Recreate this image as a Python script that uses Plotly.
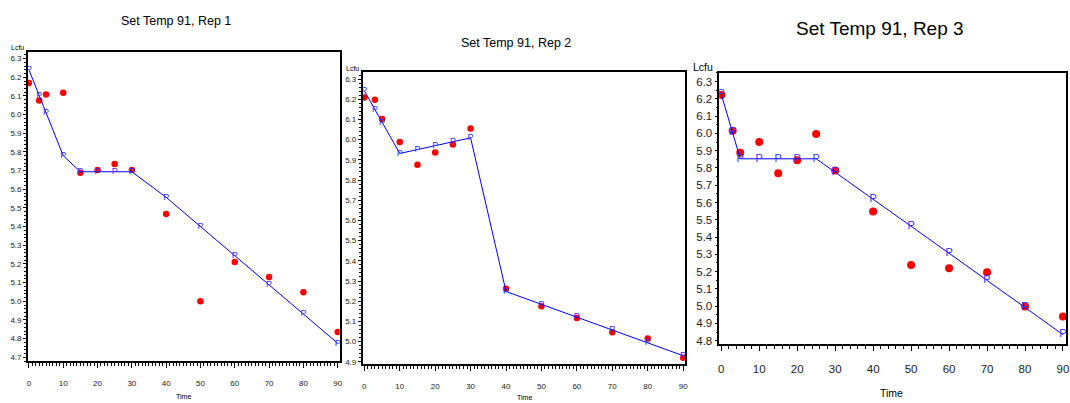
import plotly.graph_objects as go

W, H = 1070, 403

# Sampling times (minutes)
time = [0, 3, 5, 10, 15, 20, 25, 30, 40, 50, 60, 70, 80, 90]

# Observed log cfu per replicate
obs_rep1 = [6.17, 6.076, 6.108, 6.117, 5.688, 5.704, 5.736, 5.704, 5.468, 5.00, 5.21, 5.13, 5.048, 4.835]
obs_rep2 = [6.209, 6.198, 6.103, 5.988, 5.876, 5.937, 5.976, 6.055, 5.262, 5.175, 5.117, 5.046, 5.015, 4.92]
obs_rep3 = [6.223, 6.016, 5.888, 5.951, 5.77, 5.845, 5.997, 5.786, 5.548, 5.238, 5.219, 5.196, 4.998, 4.94]

# Predicted log cfu per replicate
pred_rep1 = [6.241, 6.10, 6.01, 5.78, 5.694, 5.694, 5.694, 5.694, 5.557, 5.401, 5.244, 5.088, 4.932, 4.775]
pred_rep2 = [6.242, 6.149, 6.083, 5.932, 5.951, 5.970, 5.990, 6.009, 5.248, 5.184, 5.121, 5.057, 4.994, 4.93]
pred_rep3 = [6.227, 6.006, 5.853, 5.853, 5.853, 5.853, 5.853, 5.775, 5.62, 5.463, 5.306, 5.149, 4.992, 4.835]

titles = ["Set Temp 91, Rep 1", "Set Temp 91, Rep 2", "Set Temp 91, Rep 3"]
x_ticks = [0, 10, 20, 30, 40, 50, 60, 70, 80, 90]

FONT = "Liberation Sans, Arial, sans-serif"

# Panel geometry in pixels: frame box, axis ranges, font sizes, label positions
panels = [
    dict(obs=obs_rep1, pred=pred_rep1, title=titles[0],
         box=(27, 340, 52, 363), xr=(-0.29, 90.58), yr=(4.679, 6.337),
         yticks=[round(4.7 + 0.1 * i, 1) for i in range(17)],
         tick_font=8, title_font=12.5, title_xy=(176, 21), p_font=9, dot=6.5,
         xminor=1, yminor=0.02, lcfu_xy=(17, 48), time_xy=(183, 398), label_font=7),
    dict(obs=obs_rep2, pred=pred_rep2, title=titles[1],
         box=(363, 687, 72, 366), xr=(-0.48, 90.65), yr=(4.888, 6.337),
         yticks=[round(4.9 + 0.1 * i, 1) for i in range(15)],
         tick_font=8, title_font=12.5, title_xy=(517, 43), p_font=9, dot=6.5,
         xminor=1, yminor=0.02, lcfu_xy=(353, 69), time_xy=(525, 399), label_font=7),
    dict(obs=obs_rep3, pred=pred_rep3, title=titles[2],
         box=(721, 1069, 73, 346), xr=(-0.52, 90.8), yr=(4.779, 6.352),
         yticks=[round(4.8 + 0.1 * i, 1) for i in range(16)],
         tick_font=11.5, title_font=19, title_xy=(882, 29), p_font=11, dot=8,
         xminor=2, yminor=0.05, lcfu_xy=(705, 67), time_xy=(894, 395), label_font=10.5),
]

fig = go.Figure()
annotations = []


def label(text, xy, size):
    return dict(text=text, x=xy[0] / W, y=1 - xy[1] / H, xref="paper", yref="paper",
                xanchor="center", yanchor="middle", showarrow=False,
                font=dict(family=FONT, size=size, color="black"))


for i, p in enumerate(panels, start=1):
    x0, x1, y0, y1 = p["box"]
    xa = "x" if i == 1 else f"x{i}"
    ya = "y" if i == 1 else f"y{i}"

    # Observed values: red dots
    fig.add_trace(go.Scatter(
        x=time, y=p["obs"], xaxis=xa, yaxis=ya, mode="markers",
        marker=dict(color="#ff0000", size=p["dot"], line=dict(width=0)),
        showlegend=False, hoverinfo="skip"))
    # Predicted values: blue line with P symbols
    fig.add_trace(go.Scatter(
        x=time, y=p["pred"], xaxis=xa, yaxis=ya, mode="lines+text",
        text=["P"] * len(time), textposition="middle center",
        textfont=dict(color="#3333ff", size=p["p_font"], family=FONT),
        line=dict(color="#0000ff", width=1),
        showlegend=False, hoverinfo="skip"))

    axis_common = dict(showgrid=False, zeroline=False, showline=True,
                       linecolor="black", linewidth=1.5, mirror=True,
                       ticks="outside", tickcolor="black",
                       tickfont=dict(family=FONT, size=p["tick_font"], color="#222"))
    fig.layout[f"xaxis{'' if i == 1 else i}"] = dict(
        axis_common, domain=[x0 / W, x1 / W], anchor=ya, range=list(p["xr"]),
        tickvals=x_ticks, ticklen=5, tickwidth=1.2,
        ticklabelstandoff=8,
        minor=dict(ticks="outside", dtick=p["xminor"], ticklen=3, tickcolor="black", tickwidth=1))
    fig.layout[f"yaxis{'' if i == 1 else i}"] = dict(
        axis_common, domain=[(H - y1) / H, (H - y0) / H], anchor=xa, range=list(p["yr"]),
        tickvals=p["yticks"], tickformat=".1f", ticklen=3, tickwidth=1,
        minor=dict(ticks="outside", dtick=p["yminor"], ticklen=2, tickcolor="black", tickwidth=1))

    annotations.append(label(p["title"], p["title_xy"], p["title_font"]))
    annotations.append(label("Lcfu", p["lcfu_xy"], p["label_font"]))
    annotations.append(label("Time", p["time_xy"], p["label_font"]))

fig.update_layout(width=W, height=H, margin=dict(l=0, r=0, t=0, b=0),
                  paper_bgcolor="white", plot_bgcolor="white",
                  annotations=annotations)

fig.write_html("out.html")
